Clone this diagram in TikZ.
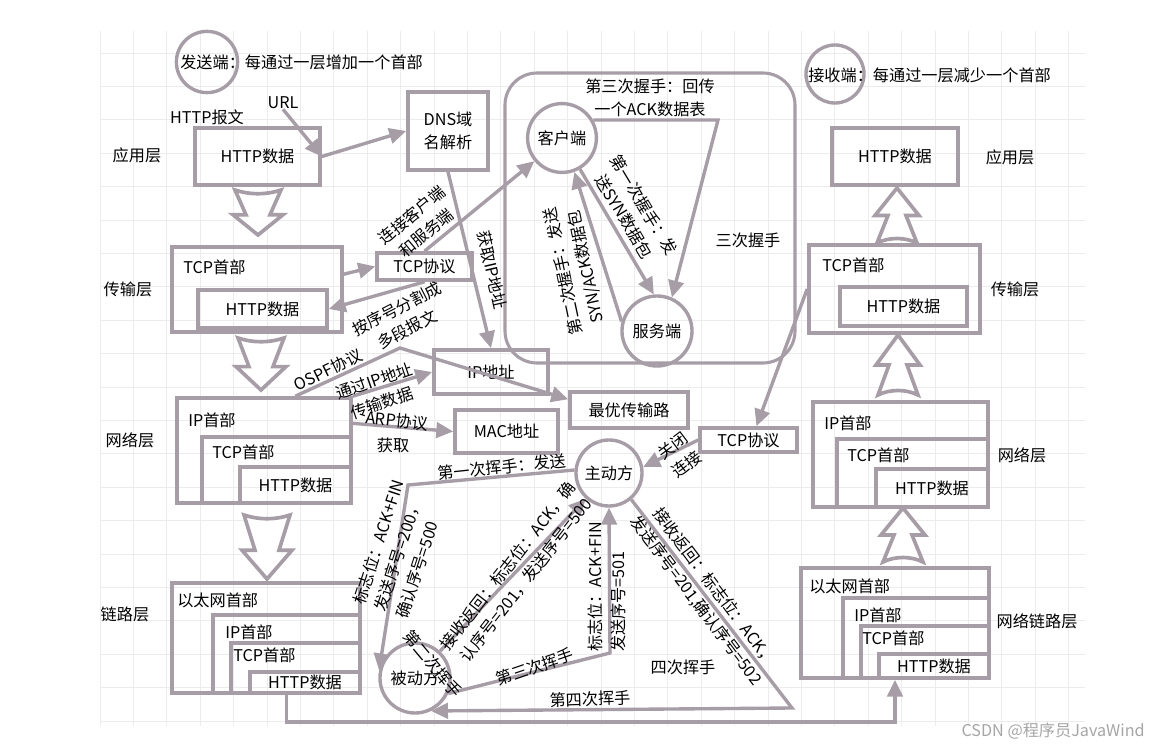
\documentclass[tikz,border=0pt]{standalone}
\usepackage{fontspec}
\setmainfont{Noto Sans CJK SC}
\usetikzlibrary{arrows.meta,fit}
\definecolor{lc}{RGB}{166,157,166}
\definecolor{gc}{RGB}{236,236,236}
\tikzset{
  box/.style={draw=lc,line width=2.6pt,inner sep=0pt},
  circ/.style={draw=lc,line width=2.4pt,circle,inner sep=0pt},
  lnk/.style={draw=lc,line width=2.4pt},
  arr/.style={lnk,-{Triangle[length=12pt,width=11pt]}},
  hollow/.style={draw=lc,line width=2.6pt,fill=white,line join=miter},
  lbl/.style={align=center},
}
\begin{document}
\begin{tikzpicture}[x=0.025cm,y=-0.025cm,font=\fontsize{11.5}{16.3}\selectfont,every node/.append style={inner sep=0pt}]
\useasboundingbox (0,0) rectangle (1160,749);
\fill[white] (0,0) rectangle (1160,749);
% grid
\foreach \gx in {100,133.4,...,1085} \draw[gc,line width=0.5pt] (\gx,31) -- (\gx,726);
\foreach \gy in {53,86.4,...,726} \draw[gc,line width=0.5pt] (100,\gy) -- (1085,\gy);

% legend
\node[circ,minimum size=1.53cm] (send) at (207,62) {};
\node[anchor=west] (sendt) at (180,62) {发送端：每通过一层增加一个首部};
\node[circ,minimum size=1.45cm] (recv) at (835,74) {};
\node[anchor=west] (recvt) at (808,75) {接收端：每通过一层减少一个首部};

% layer names
\node (lapp) at (137,155) {应用层};
\node (ltra) at (128,289) {传输层};
\node (lnet) at (130,440) {网络层};
\node (llnk) at (125,614) {链路层};
\node (rapp) at (1010,157) {应用层};
\node (rtra) at (1015,289) {传输层};
\node (rnet) at (1022,455) {网络层};
\node (rlnk) at (1037,621) {网络链路层};

% handshake frame
\node[box,line width=2.2pt,rounded corners=0.8cm,fit={(505,73) (795,363)}] (hs3) {};

% sender side
\node (msg) at (207,117) {HTTP报文};
\node (url) at (283,103) {URL};
\node[box,fit={(195,128) (320,185)}] (httpA) {};
\node (httpAt) at (httpA) {HTTP数据};
\node[box,fit={(408,92) (488,170)}] (dns) {};
\node[lbl] (dnst) at (dns) {DNS域\\名解析};

\node[box,fit={(172,247) (342,332)}] (tcpL) {};
\node[anchor=west] (tcpLt) at (183,267) {TCP首部};
\node[box,fit={(198,290) (327,328)}] (httpB) {};
\node (httpBt) at (httpB) {HTTP数据};
\node[box,fit={(377,253) (472,280)}] (tcpp) {};
\node (tcppt) at (tcpp) {TCP协议};

\node[box,fit={(177,398) (351,503)}] (ipL) {};
\node[box,fit={(202,437) (351,503)}] (ipLtcp) {};
\node[box,fit={(240,467) (351,503)}] (ipLhttp) {};
\node (ipLt3) at (ipLhttp) {HTTP数据};
\node[anchor=west] (ipLt1) at (188,420) {IP首部};
\node[anchor=west] (ipLt2) at (212,452) {TCP首部};

\node[box,fit={(172,583) (360,693)}] (ethL) {};
\node[box,fit={(213,615) (360,693)}] (ethLip) {};
\node[box,fit={(231,643) (360,693)}] (ethLtcp) {};
\node[box,fit={(250,672) (360,693)}] (ethLhttp) {};
\node (ethLt4) at (ethLhttp) {HTTP数据};
\node[anchor=west] (ethLt1) at (177,600) {以太网首部};
\node[anchor=west] (ethLt2) at (225,632) {IP首部};
\node[anchor=west] (ethLt3) at (233,655) {TCP首部};

\node[box,fit={(434,350) (548,394)}] (ipaddr) {};
\node (ipaddrt) at (ipaddr) {IP地址};
\node[box,fit={(570,392) (688,428)}] (best) {};
\node (bestt) at (best) {最优传输路};
\node[box,fit={(455,410) (558,453)}] (mac) {};
\node (mact) at (mac) {MAC地址};
\node[box,fit={(700,428) (797,452)}] (tcpr) {};
\node (tcprt) at (tcpr) {TCP协议};

% receiver side
\node[box,fit={(832,128) (958,185)}] (httpR) {};
\node (httpRt) at (httpR) {HTTP数据};
\node[box,fit={(809,245) (980,333)}] (tcpRo) {};
\node[anchor=west] (tcpRt) at (822,265) {TCP首部};
\node[box,fit={(840,287) (967,326)}] (httpRi) {};
\node (httpRit) at (httpRi) {HTTP数据};

\node[box,fit={(813,402) (988,507)}] (ipR) {};
\node[box,fit={(837,439) (988,507)}] (ipRtcp) {};
\node[box,fit={(876,469) (988,507)}] (ipRhttp) {};
\node (ipRt3) at (ipRhttp) {HTTP数据};
\node[anchor=west] (ipRt1) at (824,423) {IP首部};
\node[anchor=west] (ipRt2) at (847,455) {TCP首部};

\node[box,fit={(801,568) (989,678)}] (ethR) {};
\node[box,fit={(843,598) (989,678)}] (ethRip) {};
\node[box,fit={(861,626) (989,678)}] (ethRtcp) {};
\node[box,fit={(879,654) (989,678)}] (ethRhttp) {};
\node (ethRt4) at (ethRhttp) {HTTP数据};
\node[anchor=west] (ethRt1) at (809,586) {以太网首部};
\node[anchor=west] (ethRt2) at (854,615) {IP首部};
\node[anchor=west] (ethRt3) at (862,638) {TCP首部};

% hollow arrows
\foreach \cx/\ty/\h in {258/190/45,261/338/52,267/515/64}
  \draw[hollow] (\cx-23,\ty) .. controls (\cx-8,\ty+5) and (\cx+8,\ty+5) .. (\cx+23,\ty) -- (\cx+12,\ty+0.55*\h) -- (\cx+25,\ty+0.55*\h) -- (\cx,\ty+\h) -- (\cx-25,\ty+0.55*\h) -- (\cx-12,\ty+0.55*\h) -- cycle;
\foreach \cx/\ty/\h in {897/188/55,898/335/60,903/508/54}
  \draw[hollow] (\cx,\ty) -- (\cx+22,\ty+0.5*\h) -- (\cx+9,\ty+0.5*\h) -- (\cx+20,\ty+\h) .. controls (\cx+8,\ty+\h-6) and (\cx-8,\ty+\h-6) .. (\cx-20,\ty+\h) -- (\cx-9,\ty+0.5*\h) -- (\cx-22,\ty+0.5*\h) -- cycle;

% circles
\node[circ,minimum size=1.72cm] (kehu) at (562,138) {客户端};
\node[circ,minimum size=1.75cm] (fuwu) at (657,331) {服务端};
\node[circ,minimum size=1.65cm] (zhudong) at (609,473) {主动方};
\node[circ,minimum size=1.75cm] (beidong) at (415,678) {被动方};

% connectors
\draw[arr] (url.south) -- (httpA.east);
\draw[arr] (httpA.east) -- (dns.west);
\draw[arr] (dns.south) -- (ipaddr.north);
\draw[arr] (tcpL.10) -- (tcpp.west);
\draw[arr] (tcpp.south) -- (httpB.east);
\draw[arr] (tcpp.north) -- (kehu.220);
\coordinate (ospfk) at (400,348);
\draw[arr] (ipL.60) -- (ospfk) -- (best.170);
\draw[arr] (ipL.north east) -- (ipaddr.west);
\draw[arr] (ipL.17) -- (mac.west);
\draw[arr] (tcpRo.west) -- (tcpr.60);
\draw[arr] (tcpr.west) -- (zhudong.10);
\coordinate (bl) at (286.5,722);
\coordinate (br) at (895,722);
\draw[arr] (ethLip.south) -- (bl) -- (br) -- (ethR.south);

% three-way handshake
\coordinate (ackk) at (718,120);
\draw[arr] (kehu.30) -- (ackk) -- (fuwu.66);
\draw[arr] (kehu.-60) -- (fuwu.95);
\draw[arr] (fuwu.165) -- (kehu.-70);

% four-way wave
\coordinate (w1k) at (408,485);
\draw[arr] (zhudong.175) -- (w1k) -- (beidong.168);
\draw[arr] (beidong.47) -- (zhudong.228);
\coordinate (w3k) at (610,653);
\draw[arr] (beidong.-25) -- (w3k) -- (zhudong.south);
\coordinate (w4k) at (792,708);
\draw[arr] (zhudong.-50) -- (w4k) -- (beidong.-64);

% labels
\node[lbl,rotate=40] (l1) at (419,224) {连接客户端\\和服务端};
\node[lbl,rotate=-77] (l2) at (492,270) {获取IP地址};
\node[lbl,rotate=27] (l3) at (402,319) {按序号分割成\\多段报文};
\node[lbl,rotate=26] (l4) at (328,370) {OSPF协议};
\node[lbl,rotate=19] (l5) at (378,392) {通过IP地址\\传输数据};
\node[lbl,rotate=-6] (l6) at (397,421) {ARP协议};
\node[lbl] (l7) at (393,445) {获取};
\node[lbl,rotate=37] (l8) at (680,455) {关闭\\连接};
\node[lbl] (l9) at (650,98) {第三次握手：回传\\一个ACK数据表};
\node[lbl,rotate=-59] (l10) at (634,211) {第一次握手：发\\送SYN数据包};
\node[lbl,rotate=102] (l11) at (575,269) {第二次握手：发送\\SYN/ACK数据包};
\node[lbl] (l12) at (748,240) {三次握手};
\node[lbl,rotate=6] (l13) at (502,467) {第一次挥手：发送};
\node[align=left,rotate=72] (l14) at (400,549) {标志位：ACK+FIN\\发送序号=200，\\确认序号=500};
\node[lbl,rotate=52] (l15) at (517,573) {接收返回：标志位：ACK，确\\认序号=201，发送序号=500};
\node[lbl,rotate=-50] (l16) at (433,664) {第二次挥手};
\node[lbl,rotate=19] (l17) at (535,667) {第三次挥手};
\node[align=left,rotate=90] (l18) at (607,587) {标志位：ACK+FIN\\发送序号=501};
\node[lbl] (l19) at (683,667) {四次挥手};
\node[lbl,rotate=2] (l20) at (590,699) {第四次挥手};
\node[lbl,rotate=-53] (l21) at (705,594) {接收返回：标志位：ACK，\\发送序号=201,确认序号=502};

\node[anchor=east,text=gray!70] (wm) at (1145,731) {CSDN @程序员JavaWind};
\end{tikzpicture}
\end{document}
